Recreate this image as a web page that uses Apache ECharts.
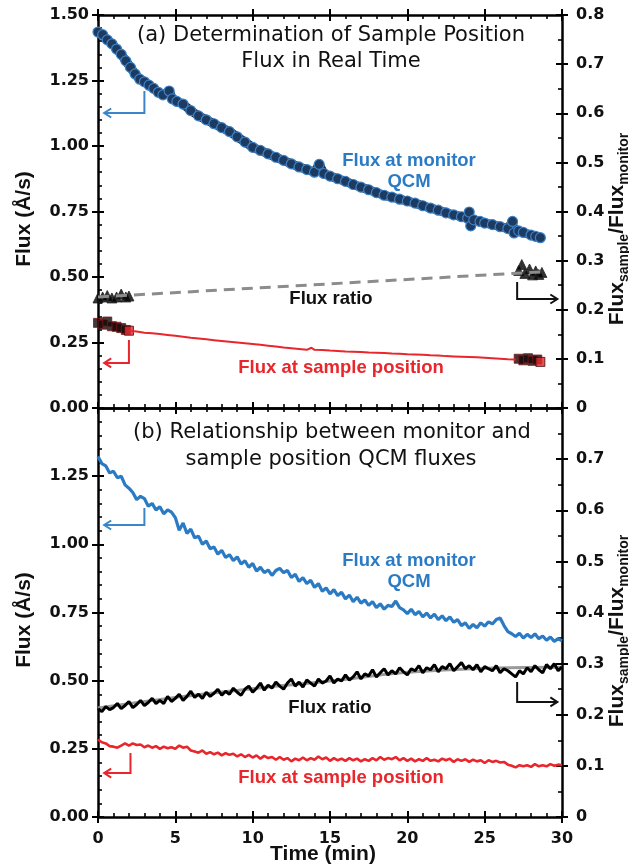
<!DOCTYPE html>
<html>
<head>
<meta charset="utf-8">
<script src="https://cdn.jsdelivr.net/npm/echarts@6/dist/echarts.min.js"></script>
<style>
  html, body { margin: 0; padding: 0; background: #fff; }
  #chart { width: 629px; height: 866px; }
</style>
</head>
<body>
<div id="chart"></div>
<script>
// ---------- (a) real-time determination: [time (min), value] ----------
// Flux at monitor QCM (Å/s)
const monitorA = [
  [0,1.435],[0.3,1.425],[0.6,1.405],[0.9,1.39],[1.2,1.37],[1.5,1.35],[1.8,1.325],
  [2.1,1.3],[2.4,1.275],[2.7,1.255],[3.0,1.245],[3.3,1.232],[3.6,1.22],[3.9,1.205],
  [4.2,1.195],[4.6,1.21],[4.8,1.18],[5.1,1.17],[5.5,1.16],[6.0,1.135],[6.5,1.115],
  [7.0,1.1],[7.5,1.085],[8.0,1.07],[8.5,1.055],[9.0,1.035],[9.5,1.015],[10.0,0.995],
  [10.5,0.983],[11.0,0.97],[11.5,0.957],[12.0,0.945],[12.5,0.932],[13.0,0.92],
  [13.5,0.91],[14.0,0.9],[14.3,0.93],[14.6,0.895],[15.0,0.885],[15.5,0.875],
  [16.0,0.865],[16.5,0.853],[17.0,0.843],[17.5,0.833],[18.0,0.822],[18.5,0.812],
  [19.0,0.805],[19.5,0.797],[20.0,0.79],[20.5,0.782],[21.0,0.772],[21.5,0.763],
  [22.0,0.755],[22.5,0.745],[23.0,0.737],[23.5,0.73],[23.9,0.724],[24.0,0.748],
  [24.1,0.695],[24.3,0.718],[24.7,0.712],[25.0,0.706],[25.5,0.7],[26.0,0.692],
  [26.5,0.685],[26.8,0.712],[26.9,0.668],[27.2,0.676],[27.5,0.67],[28.0,0.66],
  [28.3,0.655],[28.6,0.65]
];
// Flux ratio markers (sample / monitor), start and end of run
const ratioA = [
  [0,0.224],[0.3,0.226],[0.6,0.229],[0.9,0.224],[1.2,0.226],[1.5,0.232],[1.8,0.226],[2.0,0.228],
  [27.2,0.28],[27.4,0.292],[27.6,0.274],[27.9,0.283],[28.1,0.271],[28.3,0.279],[28.5,0.272],[28.7,0.276]
];
// Linear link between the two ratio measurements
const ratioLinkA = [[0,0.226],[28.6,0.277]];
// Flux at sample position measured directly (Å/s)
const sampleMeasuredA = [
  [0,0.325],[0.3,0.318],[0.6,0.33],[0.9,0.312],[1.2,0.31],[1.5,0.305],[1.8,0.298],
  [27.2,0.188],[27.5,0.182],[27.8,0.19],[28.1,0.18],[28.4,0.185]
];
const sampleLastA = [[2.0,0.295],[28.6,0.176]];
// Flux at sample position derived from monitor × ratio (Å/s)
const sampleDerivedA = [
  [2.0,0.295],[2.5,0.292],[3.0,0.287],[3.5,0.285],[4.0,0.282],[4.5,0.279],[5.0,0.276],
  [5.5,0.272],[6.0,0.268],[6.5,0.265],[7.0,0.262],[7.5,0.259],[8.0,0.256],[8.5,0.253],
  [9.0,0.25],[9.5,0.247],[10.0,0.244],[10.5,0.241],[11.0,0.238],[11.5,0.235],[12.0,0.231],
  [12.5,0.228],[13.0,0.225],[13.5,0.222],[13.8,0.23],[14.0,0.222],[14.5,0.221],[15.0,0.219],
  [15.5,0.218],[16.0,0.216],[16.5,0.215],[17.0,0.214],[17.5,0.212],[18.0,0.211],[18.5,0.21],
  [19.0,0.208],[19.5,0.207],[20.0,0.205],[20.5,0.204],[21.0,0.203],[21.5,0.201],[22.0,0.2],
  [22.5,0.198],[23.0,0.197],[23.5,0.196],[24.0,0.195],[24.5,0.194],[25.0,0.192],[25.5,0.19],
  [26.0,0.188],[26.5,0.186],[27.0,0.185]
];

// ---------- (b) simultaneous logging, one reading every 0.25 min ----------
const STEP_B = 0.25;
const monitorB = [
  1.322,1.296,1.288,1.262,1.268,1.244,1.250,1.218,1.206,1.190,1.164,1.176,1.168,1.140,1.150,1.126,
  1.138,1.112,1.126,1.118,1.098,1.052,1.078,1.040,1.056,1.024,1.030,1.000,1.012,0.984,0.990,0.964,
  0.978,0.952,0.962,0.940,0.954,0.928,0.940,0.916,0.930,0.902,0.916,0.896,0.906,0.886,0.904,0.912,
  0.896,0.904,0.878,0.890,0.864,0.878,0.856,0.868,0.842,0.856,0.828,0.840,0.818,0.834,0.812,0.824,
  0.800,0.814,0.790,0.806,0.784,0.796,0.776,0.790,0.768,0.782,0.762,0.776,0.772,0.792,0.768,0.760,
  0.746,0.762,0.742,0.754,0.734,0.748,0.730,0.744,0.724,0.738,0.720,0.734,0.714,0.724,0.702,0.712,
  0.692,0.706,0.694,0.712,0.700,0.716,0.708,0.724,0.730,0.702,0.680,0.672,0.662,0.674,0.656,0.670,
  0.658,0.672,0.654,0.664,0.648,0.660,0.644,0.654,0.646
];
const ratioB = [
  0.212,0.206,0.216,0.210,0.214,0.222,0.212,0.218,0.226,0.214,0.220,0.228,0.218,0.224,0.232,0.222,
  0.228,0.222,0.236,0.226,0.232,0.240,0.228,0.236,0.246,0.234,0.240,0.232,0.244,0.236,0.242,0.250,
  0.238,0.246,0.240,0.252,0.244,0.238,0.250,0.256,0.244,0.252,0.262,0.248,0.258,0.252,0.264,0.256,
  0.250,0.262,0.270,0.256,0.264,0.254,0.268,0.262,0.256,0.270,0.262,0.266,0.276,0.262,0.270,0.266,
  0.278,0.268,0.274,0.284,0.270,0.280,0.276,0.288,0.274,0.282,0.290,0.278,0.286,0.280,0.292,0.284,
  0.278,0.290,0.286,0.296,0.282,0.292,0.288,0.298,0.284,0.294,0.290,0.300,0.286,0.294,0.302,0.290,
  0.296,0.288,0.298,0.284,0.294,0.290,0.286,0.296,0.282,0.290,0.286,0.280,0.274,0.286,0.280,0.292,
  0.284,0.296,0.288,0.282,0.298,0.290,0.300,0.286,0.294
];
const ratioTrendB = [[0,0.213],[5,0.234],[10,0.251],[15,0.266],[20,0.283],[25,0.291],[30,0.293]];
const sampleB = [
  0.284,0.274,0.270,0.260,0.258,0.254,0.262,0.270,0.262,0.270,0.264,0.266,0.256,0.262,0.254,0.260,
  0.250,0.258,0.252,0.256,0.250,0.262,0.254,0.258,0.244,0.240,0.236,0.244,0.232,0.238,0.230,0.236,
  0.226,0.234,0.228,0.232,0.222,0.230,0.220,0.228,0.218,0.226,0.214,0.224,0.216,0.220,0.210,0.220,
  0.210,0.216,0.204,0.214,0.208,0.218,0.208,0.216,0.210,0.222,0.212,0.218,0.206,0.216,0.208,0.214,
  0.206,0.216,0.208,0.214,0.204,0.212,0.206,0.216,0.208,0.220,0.210,0.216,0.212,0.220,0.208,0.216,
  0.206,0.214,0.204,0.212,0.206,0.216,0.206,0.210,0.204,0.214,0.208,0.214,0.202,0.212,0.206,0.212,
  0.202,0.210,0.204,0.208,0.198,0.208,0.202,0.206,0.200,0.202,0.192,0.188,0.182,0.190,0.186,0.190,
  0.184,0.194,0.186,0.190,0.186,0.194,0.188,0.192,0.190
];

// ---------- axis ranges ----------
const TIME_TICKS = { min: 0, max: 30, interval: 5 };
const FLUX_TICKS = { min: 0, max: 1.5, interval: 0.25 };
const RATIO_TICKS = { min: 0, max: 0.8, interval: 0.1 };

const pairsOf = (vals, step) => vals.map((v, i) => [i * step, v]);

const BLUE = '#2b7bc4', RED = '#e8262b', LABEL_FONT = '"DejaVu Sans", sans-serif';
const BOLD = '"Liberation Sans", Arial, sans-serif';

// One axis drawer; the inner copy draws the axis line, labels and inward ticks,
// the outer copy only adds outward major ticks so they cross the line.
function axis(kind, opts) {
  const base = kind === 'x' ? TIME_TICKS : (opts.ratio ? RATIO_TICKS : FLUX_TICKS);
  return {
    type: 'value',
    gridIndex: opts.grid,
    position: opts.pos,
    min: base.min, max: base.max, interval: base.interval,
    axisLine: { show: !opts.out, onZero: false, lineStyle: { color: '#000', width: 2.5 } },
    axisTick: { show: true, inside: !opts.out, length: 6, lineStyle: { color: '#000', width: 2 } },
    minorTick: { show: !opts.out, splitNumber: opts.ratio ? 2 : 5, length: 4,
                 lineStyle: { color: '#000', width: 1.6 } },
    splitLine: { show: false },
    minorSplitLine: { show: false },
    axisLabel: {
      show: !!opts.labels, margin: opts.margin || 10, showMinLabel: true, showMaxLabel: true,
      color: '#111', fontFamily: LABEL_FONT, fontWeight: 'bold', fontSize: 16,
      formatter: opts.fmt
    }
  };
}

const fmtFluxA = v => v.toFixed(2);
const fmtFluxB = v => (v >= 1.5 ? '' : v.toFixed(2));
const fmtRatioA = v => (v === 0 ? '0' : v.toFixed(1));
const fmtRatioB = v => (v >= 0.8 ? '' : (v === 0 ? '0' : v.toFixed(1)));

const xAxes = [
  axis('x', { grid: 0, pos: 'bottom' }),
  axis('x', { grid: 0, pos: 'top' }),
  axis('x', { grid: 0, pos: 'top', out: true }),
  axis('x', { grid: 1, pos: 'top' }),
  axis('x', { grid: 1, pos: 'bottom', labels: true, margin: 14, fmt: v => String(v) }),
  axis('x', { grid: 1, pos: 'bottom', out: true })
];
const yAxes = [
  axis('y', { grid: 0, pos: 'left', labels: true, margin: 9, fmt: fmtFluxA }),
  axis('y', { grid: 0, pos: 'left', out: true }),
  axis('y', { grid: 0, pos: 'right', ratio: true, labels: true, margin: 14, fmt: fmtRatioA }),
  axis('y', { grid: 0, pos: 'right', ratio: true, out: true }),
  axis('y', { grid: 1, pos: 'left', labels: true, margin: 9, fmt: fmtFluxB }),
  axis('y', { grid: 1, pos: 'left', out: true }),
  axis('y', { grid: 1, pos: 'right', ratio: true, labels: true, margin: 14, fmt: fmtRatioB }),
  axis('y', { grid: 1, pos: 'right', ratio: true, out: true })
];

const series = [
  // (a)
  { type: 'line', xAxisIndex: 0, yAxisIndex: 0, data: monitorA, symbol: 'circle', symbolSize: 10,
    showAllSymbol: true, lineStyle: { color: '#172f4f', width: 9 },
    itemStyle: { color: '#1d3a60', borderColor: '#3d82c6', borderWidth: 1.2 } },
  { type: 'scatter', xAxisIndex: 0, yAxisIndex: 2, data: ratioA, symbol: 'triangle', symbolSize: 10,
    itemStyle: { color: '#000', borderColor: '#222', borderWidth: 1 } },
  { type: 'line', xAxisIndex: 0, yAxisIndex: 2, data: ratioLinkA, symbol: 'none',
    lineStyle: { color: '#8c8c8c', width: 3, type: [11, 7] } },
  { type: 'line', xAxisIndex: 0, yAxisIndex: 0, data: sampleDerivedA, symbol: 'none',
    lineStyle: { color: RED, width: 2 } },
  { type: 'scatter', xAxisIndex: 0, yAxisIndex: 0, data: sampleMeasuredA, symbol: 'rect', symbolSize: 9,
    itemStyle: { color: '#150606', borderColor: '#7a1414', borderWidth: 1 } },
  { type: 'scatter', xAxisIndex: 0, yAxisIndex: 0, data: sampleLastA, symbol: 'rect', symbolSize: 9,
    itemStyle: { color: RED, borderColor: '#3a0a0a', borderWidth: 1 } },
  // (b)
  { type: 'line', xAxisIndex: 4, yAxisIndex: 4, data: pairsOf(monitorB, STEP_B), symbol: 'none',
    lineStyle: { color: BLUE, width: 3.2 } },
  { type: 'line', xAxisIndex: 4, yAxisIndex: 6, data: ratioTrendB, symbol: 'none', smooth: true,
    lineStyle: { color: '#9a9a9a', width: 3 } },
  { type: 'line', xAxisIndex: 4, yAxisIndex: 6, data: pairsOf(ratioB, STEP_B), symbol: 'none',
    lineStyle: { color: '#000', width: 3 } },
  { type: 'line', xAxisIndex: 4, yAxisIndex: 4, data: pairsOf(sampleB, STEP_B), symbol: 'none',
    lineStyle: { color: RED, width: 2.6 } }
];

const chart = echarts.init(document.getElementById('chart'), null, { renderer: 'canvas' });
chart.setOption({
  animation: false,
  backgroundColor: '#fff',
  grid: [
    { left: 98, right: 67, top: 15, height: 393, containLabel: false, outerBoundsMode: 'none' },
    { left: 98, right: 67, top: 408, height: 409, containLabel: false, outerBoundsMode: 'none' }
  ],
  xAxis: xAxes,
  yAxis: yAxes,
  series: series
});

// ---------- annotations ----------
const panelText = [
  { x: 331, y: 36, text: '(a) Determination of Sample Position', kind: 'title' },
  { x: 331, y: 62, text: 'Flux in Real Time', kind: 'title' },
  { x: 409, y: 161, text: 'Flux at monitor', kind: 'blue' },
  { x: 409, y: 182, text: 'QCM', kind: 'blue' },
  { x: 331, y: 299, text: 'Flux ratio', kind: 'black' },
  { x: 341, y: 368, text: 'Flux at sample position', kind: 'red' },
  { x: 332, y: 433, text: '(b) Relationship between monitor and', kind: 'title' },
  { x: 331, y: 460, text: 'sample position QCM fluxes', kind: 'title' },
  { x: 409, y: 561, text: 'Flux at monitor', kind: 'blue' },
  { x: 409, y: 582, text: 'QCM', kind: 'blue' },
  { x: 330, y: 708, text: 'Flux ratio', kind: 'black' },
  { x: 341, y: 778, text: 'Flux at sample position', kind: 'red' }
];
const textStyles = {
  title: { font: '21px ' + LABEL_FONT, fill: '#111' },
  blue: { font: 'bold 18.5px ' + BOLD, fill: BLUE },
  black: { font: 'bold 18.5px ' + BOLD, fill: '#111' },
  red: { font: 'bold 18.5px ' + BOLD, fill: RED }
};

// Bent arrows pointing to the axis each curve is read against (data coordinates, flux axis)
const pointers = [
  { panel: 0, t: 3.0, from: 1.21, to: 1.126, tip: 0.4, color: '#3a86c8' },
  { panel: 0, t: 2.0, from: 0.26, to: 0.172, tip: 0.4, color: RED },
  { panel: 0, t: 27.1, from: 0.481, to: 0.416, tip: 29.7, color: '#111' },
  { panel: 1, t: 3.0, from: 1.133, to: 1.071, tip: 0.4, color: '#3a86c8' },
  { panel: 1, t: 2.1, from: 0.235, to: 0.161, tip: 0.4, color: RED },
  { panel: 1, t: 27.1, from: 0.495, to: 0.422, tip: 29.7, color: '#111' }
];

function toPx(panel, t, v) {
  return chart.convertToPixel({ xAxisIndex: panel === 0 ? 0 : 4, yAxisIndex: panel === 0 ? 0 : 4 }, [t, v]);
}

const graphics = [];
panelText.forEach(p => {
  const st = textStyles[p.kind];
  graphics.push({ type: 'text', x: p.x, y: p.y, z: 50,
    style: { text: p.text, font: st.font, fill: st.fill, align: 'center', verticalAlign: 'middle' } });
});
pointers.forEach(a => {
  const p0 = toPx(a.panel, a.t, a.from);
  const p1 = toPx(a.panel, a.t, a.to);
  const p2 = toPx(a.panel, a.tip, a.to);
  const dir = p2[0] < p1[0] ? 1 : -1;
  const line = { stroke: a.color, lineWidth: 2, fill: null };
  graphics.push({ type: 'polyline', z: 50, shape: { points: [p0, p1, p2] }, style: line });
  graphics.push({ type: 'polyline', z: 50,
    shape: { points: [[p2[0] + dir * 7, p2[1] - 4.5], p2, [p2[0] + dir * 7, p2[1] + 4.5]] }, style: line });
});

// Axis titles
const axisTitleFont = 'bold 21px ' + BOLD;
[219, 620].forEach(cy => {
  graphics.push({ type: 'text', x: 24, y: cy, rotation: Math.PI / 2, z: 50,
    style: { text: 'Flux (Å/s)', font: axisTitleFont, fill: '#111', align: 'center', verticalAlign: 'middle' } });
});
[229, 631].forEach(cy => {
  graphics.push({ type: 'text', x: 619, y: cy, rotation: Math.PI / 2, z: 50,
    style: {
      text: '{m|Flux}{s|sample}{m|/Flux}{s|monitor}',
      align: 'center', verticalAlign: 'middle', fill: '#111',
      rich: {
        m: { font: axisTitleFont, fill: '#111', lineHeight: 25, verticalAlign: 'top' },
        s: { font: 'bold 14px ' + BOLD, fill: '#111', lineHeight: 25, verticalAlign: 'bottom' }
      }
    } });
});
graphics.push({ type: 'text', x: 323, y: 854, z: 50,
  style: { text: 'Time (min)', font: axisTitleFont, fill: '#111', align: 'center', verticalAlign: 'middle' } });

chart.setOption({ graphic: graphics });
</script>
</body>
</html>
